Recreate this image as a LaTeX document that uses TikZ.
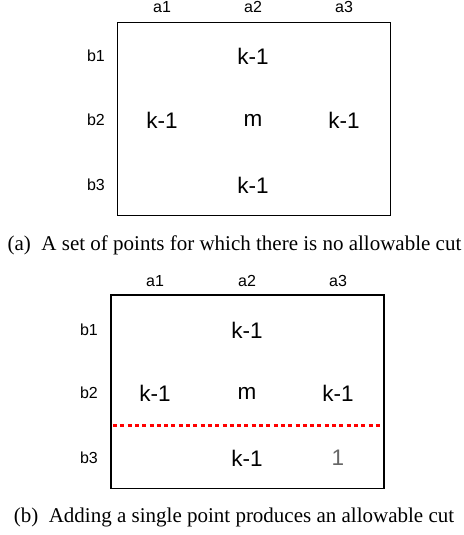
\documentclass[tikz,border=0pt]{standalone}
\usepackage{fontspec}
\setmainfont{Liberation Serif}
\newfontfamily\arialf{Liberation Sans}
\begin{document}
\begin{tikzpicture}[x=1pt,y=-1pt,
  lbl/.style={font=\arialf\fontsize{16}{18}\selectfont, inner sep=0pt},
  cell/.style={font=\arialf\fontsize{22.5}{24}\selectfont, inner sep=0pt},
  captext/.style={font=\fontsize{21}{24}\selectfont, inner sep=0pt},
  frame/.style={draw=black, line width=1.1pt},
  cutline/.style={draw=red, line width=3.2pt, dash pattern=on 4pt off 3.3pt}]
\useasboundingbox (0,0) rectangle (463,535);
% panel (a)
\node[frame, minimum width=272.6pt, minimum height=193pt, inner sep=0pt] (boxa) at (254,119.2) {};
\node[lbl] (a1a) at (162,7) {a1};
\node[lbl] (a2a) at (253,7) {a2};
\node[lbl] (a3a) at (344,7) {a3};
\node[lbl] (b1a) at (96,56) {b1};
\node[lbl] (b2a) at (96,120) {b2};
\node[lbl] (b3a) at (96,185) {b3};
\node[cell] (c12a) at (253,56) {k-1};
\node[cell] (c21a) at (162,120) {k-1};
\node[cell] (c22a) at (253,120) {m};
\node[cell] (c23a) at (344,120) {k-1};
\node[cell] (c32a) at (253,185) {k-1};
\node[captext] (capa) at (234.5,245) {(a)\enspace A set of points for which there is no allowable cut};
% panel (b)
\node[frame, minimum width=273pt, minimum height=193.3pt, inner sep=0pt] (boxb) at (247.5,391.6) {};
\node[lbl] (a1b) at (155,281) {a1};
\node[lbl] (a2b) at (247,281) {a2};
\node[lbl] (a3b) at (338,281) {a3};
\node[lbl] (b1b) at (89,330) {b1};
\node[lbl] (b2b) at (89,393) {b2};
\node[lbl] (b3b) at (89,458) {b3};
\node[cell] (c12b) at (247,330) {k-1};
\node[cell] (c21b) at (155,393) {k-1};
\node[cell] (c22b) at (247,393) {m};
\node[cell] (c23b) at (338,393) {k-1};
\node[cell] (c32b) at (247,458) {k-1};
\node[cell, text=black!60] (c33b) at (338,458) {1};
\coordinate (cutl) at (113,425.7);
\coordinate (cutr) at (383,425.7);
\draw[cutline] (cutl) -- (cutr);
\node[captext] (capb) at (234,517) {(b)\enspace Adding a single point produces an allowable cut};
\end{tikzpicture}
\end{document}
